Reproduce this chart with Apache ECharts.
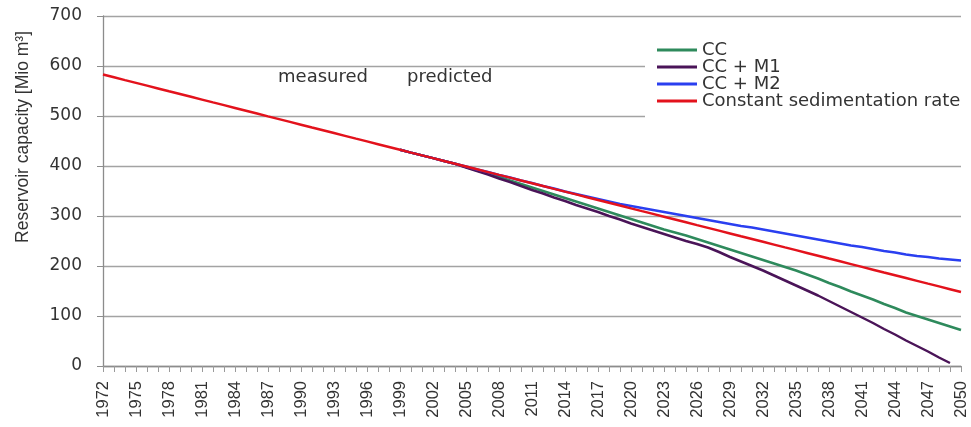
<!DOCTYPE html>
<html>
<head>
<meta charset="utf-8">
<script src="https://cdn.jsdelivr.net/npm/echarts@6/dist/echarts.min.js"></script>
<style>
html,body{margin:0;padding:0;background:#fff;}
#chart{width:971px;height:427px;}
</style>
</head>
<body>
<div id="chart"></div>
<script>
const years = ['1972','1973','1974','1975','1976','1977','1978','1979','1980','1981','1982','1983','1984','1985','1986','1987','1988','1989','1990','1991','1992','1993','1994','1995','1996','1997','1998','1999','2000','2001','2002','2003','2004','2005','2006','2007','2008','2009','2010','2011','2012','2013','2014','2015','2016','2017','2018','2019','2020','2021','2022','2023','2024','2025','2026','2027','2028','2029','2030','2031','2032','2033','2034','2035','2036','2037','2038','2039','2040','2041','2042','2043','2044','2045','2046','2047','2048','2049','2050'];

// Constant sedimentation rate, 1972-2050
const constantRate = [583.0,577.4,571.8,566.3,560.7,555.1,549.5,544.0,538.4,532.8,527.2,521.7,516.1,510.5,504.9,499.3,493.8,488.2,482.6,477.0,471.5,465.9,460.3,454.7,449.2,443.6,438.0,
  432.4,426.8,421.3,415.7,410.1,404.5,399.0,393.4,387.8,382.2,376.7,371.1,365.5,359.9,354.3,348.8,343.2,337.6,332.0,326.5,320.9,315.3,309.7,304.2,298.6,293.0,287.4,281.8,276.3,270.7,265.1,259.5,254.0,248.4,242.8,237.2,231.7,226.1,220.5,214.9,209.4,203.8,198.2,192.6,187.0,181.5,175.9,170.3,164.7,159.2,153.6,148.0];

// Scenario predictions, 1999-2050
const ccPred = [432.4,426.8,421.3,415.7,410.1,404.5,
  398,391,385,378,371,364,357,350,343,336,
  329,322,315,308,301,294,287,280,273,267,
  261,254,247,240,233,226,219,212,205,198,
  191,183,175,166,158,149,141,133,124,116,
  107,100,93,86,79,72];
const ccM1Pred = [432.4,426.8,421.3,415.7,410.1,404.5,
  397,390,383,375,368,360,352,345,337,330,
  322,315,308,300,293,285,278,271,264,257,
  250,244,237,228,218,209,200,191,181,171,
  161,151,141,130,119,108,97,86,74,63,
  51,40,29,17,6,null];
const ccM2Pred = [432.4,426.8,421.3,415.7,410.1,404.5,
  399,393,388,382,377,371,366,360,355,349,
  344,339,334,329,324,320,316,312,308,304,
  300,296,292,288,284,280,277,273,269,265,
  261,257,253,249,245,241,238,234,230,227,
  223,220,218,215,213,211];

const splitYear = '1999';
const measuredCount = years.indexOf(splitYear);
const pad = new Array(measuredCount).fill(null);
const cc = pad.concat(ccPred);
const ccM1 = pad.concat(ccM1Pred);
const ccM2 = pad.concat(ccM2Pred);

const seriesNames = ['CC','CC + M1','CC + M2','Constant sedimentation rate'];
const seriesColors = ['#2e8a5c','#4a1458','#2a3ff0','#e3121c'];

const chart = echarts.init(document.getElementById('chart'), null, {renderer:'canvas'});
const wide = 'DejaVu Sans';
const narrow = 'Liberation Sans, Arial, sans-serif';

function lineSeries(name, data, color, extra) {
  return Object.assign({
    name: name, type: 'line', data: data, symbol: 'none', showSymbol: false,
    connectNulls: false, color: color,
    lineStyle: {color: color, width: 2.5}
  }, extra || {});
}

chart.setOption({
  animation: false,
  backgroundColor: '#fff',
  grid: {left: 103, right: 10, top: 16, bottom: 61, containLabel: false},
  legend: {
    data: seriesNames,
    orient: 'vertical',
    left: 645, top: 33,
    padding: [8, 7, 8, 12],
    backgroundColor: '#fff',
    icon: 'rect',
    itemWidth: 40, itemHeight: 3, itemGap: -1,
    textStyle: {fontFamily: wide, fontSize: 18, color: '#333', lineHeight: 17}
  },
  xAxis: {
    type: 'category', data: years, boundaryGap: false,
    axisLine: {lineStyle: {color: '#8c8c8c', width: 1.3}},
    axisTick: {show: true, interval: 0, length: 6, lineStyle: {color: '#9a9a9a'}},
    axisLabel: {interval: 2, rotate: 90, margin: 15, fontFamily: narrow, fontSize: 16.5, color: '#333'},
    splitLine: {show: false}
  },
  yAxis: {
    type: 'value', min: 0, max: 700, interval: 100,
    name: 'Reservoir capacity [Mio m³]', nameLocation: 'middle', nameRotate: 90, nameGap: 71,
    nameTextStyle: {fontFamily: narrow, fontSize: 17.5, color: '#333', padding: [0, 0, 0, 108]},
    axisLine: {show: true, lineStyle: {color: '#8c8c8c', width: 1.3}},
    axisTick: {show: true, length: 6, lineStyle: {color: '#8c8c8c'}},
    axisLabel: {margin: 21, fontFamily: wide, fontSize: 17, color: '#333'},
    splitLine: {lineStyle: {color: '#a3a3a3', width: 1.4}}
  },
  series: [
    lineSeries(seriesNames[0], cc, seriesColors[0]),
    lineSeries(seriesNames[1], ccM1, seriesColors[1]),
    lineSeries(seriesNames[2], ccM2, seriesColors[2]),
    lineSeries(seriesNames[3], constantRate, seriesColors[3], {
      clip: false,
      markLine: {
        silent: true, symbol: ['none','none'], label: {show: false},
        lineStyle: {color: '#737373', width: 1.5, type: 'solid'},
        data: [[{coord: [splitYear, 0]}, {coord: [splitYear, 722]}]]
      },
      markPoint: {
        silent: true, symbol: 'circle', symbolSize: 0,
        itemStyle: {color: 'rgba(0,0,0,0)'},
        data: [
          {coord: [splitYear, 578], label: {show: true, formatter: 'measured', position: 'left', distance: 32, fontFamily: wide, fontSize: 18, color: '#333'}},
          {coord: [splitYear, 578], label: {show: true, formatter: 'predicted', position: 'right', distance: 7, fontFamily: wide, fontSize: 18, color: '#333'}}
        ]
      }
    })
  ]
});
</script>
</body>
</html>
